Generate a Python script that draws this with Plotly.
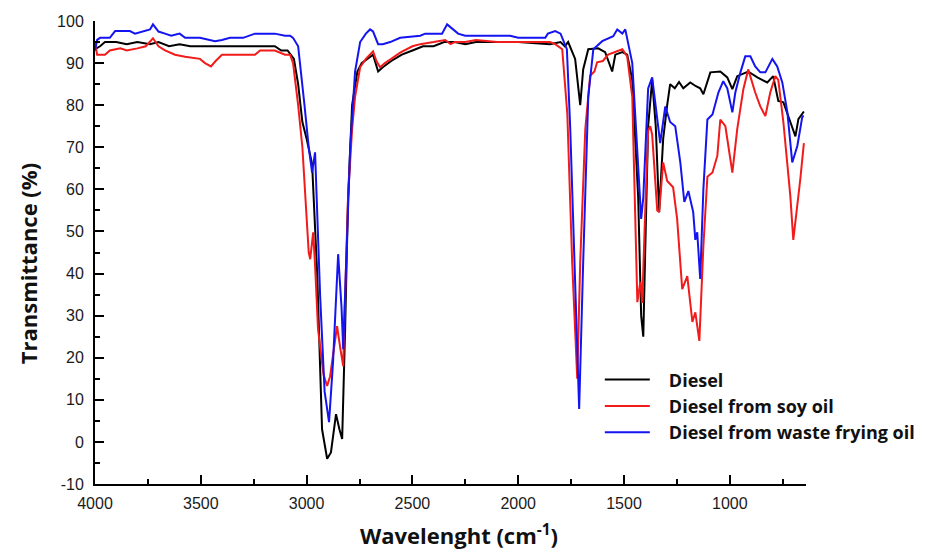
import plotly.graph_objects as go

# Diesel
diesel_x = [4000, 3976, 3953, 3900, 3850, 3800, 3740, 3700, 3650, 3600, 3550, 3500, 3300, 3150, 3120, 3090,
            3060, 3040, 3020, 3000, 2974, 2950, 2927, 2903, 2885, 2861, 2845, 2832, 2818, 2804, 2785, 2760,
            2740, 2700, 2686, 2662, 2640, 2600, 2550, 2500, 2450, 2400, 2350, 2300, 2250, 2200, 2000, 1850,
            1800, 1780, 1764, 1731, 1721, 1707, 1693, 1669, 1622, 1589, 1556, 1541, 1508, 1485, 1461, 1433,
            1419, 1409, 1400, 1386, 1367, 1350, 1334, 1315, 1296, 1282, 1260, 1240, 1220, 1200, 1187, 1160,
            1140, 1125, 1092, 1045, 1012, 988, 965, 913, 870, 823, 795, 771, 747, 714, 690, 676, 650]
diesel_y = [93.3, 94, 95, 95, 94.5, 95, 94.5, 95, 94, 94.5, 94, 94, 94, 94, 93, 93,
            91, 85, 76, 72, 66, 40, 3, -4, -2.5, 6.6, 3, 0.7, 26.8, 58, 80, 88,
            90, 91.5, 92, 88, 89, 90.5, 92, 93, 94, 94, 95, 95, 94.5, 95, 95, 94.5,
            95, 94, 95, 91, 86, 80, 88.5, 93.3, 93.5, 92.6, 88, 92, 92.6, 92, 86, 58,
            30, 25, 45, 75, 86, 75, 54.6, 72, 80, 85, 84, 85.5, 84, 85, 85.4, 84.5,
            84, 82.6, 87.8, 88, 86.6, 83.8, 86.9, 88, 86.6, 85.4, 86.9, 81, 80.7, 76, 72.6, 76.7, 78.5]

# Diesel from soy oil
soy_x = [4000, 3990, 3953, 3930, 3880, 3850, 3800, 3760, 3726, 3700, 3669, 3622, 3574, 3504, 3480, 3452,
         3430, 3400, 3338, 3244, 3220, 3150, 3102, 3078, 3064, 3040, 3020, 3007, 2990, 2983, 2969, 2960,
         2946, 2920, 2903, 2889, 2870, 2856, 2840, 2827, 2818, 2804, 2785, 2771, 2747, 2720, 2686, 2670,
         2653, 2630, 2600, 2558, 2500, 2463, 2400, 2345, 2320, 2300, 2250, 2200, 2100, 2000, 1900, 1850,
         1825, 1792, 1768, 1745, 1721, 1707, 1683, 1660, 1640, 1627, 1600, 1575, 1508, 1485, 1461, 1450,
         1437, 1423, 1414, 1400, 1386, 1376, 1367, 1343, 1334, 1315, 1296, 1268, 1249, 1225, 1201, 1177,
         1163, 1144, 1125, 1106, 1082, 1059, 1045, 1021, 1007, 988, 965, 936, 913, 894, 880, 856,
         832, 809, 785, 771, 747, 714, 700, 667, 650]
soy_y = [95, 92, 92, 93, 93.5, 93, 93.5, 94, 95.9, 94, 93, 92, 91.5, 91, 90, 89.2,
         90.5, 92, 92, 92, 93, 93, 92, 92, 90, 80, 70, 60, 45, 43.4, 49.8, 42,
         26.8, 16, 13.3, 15.6, 22, 27.5, 22, 18, 34.6, 58.4, 74.3, 82, 89, 91, 92.8, 90.5,
         89, 90, 91, 92.5, 94, 94.5, 95, 95.5, 94.5, 95, 95, 95.5, 95, 95, 95, 95,
         94.5, 93.3, 78, 42.7, 15, 42.7, 74.3, 87, 88, 90.2, 90.5, 92, 93.3, 91.6, 82, 60,
         33.2, 38, 33, 54.6, 74, 75, 73, 55, 54.6, 66.4, 62, 60.5, 53, 36.3, 39.4, 28.5,
         30.8, 24, 46.5, 63, 64, 68, 76.6, 75, 70.3, 64, 74.3, 83.8, 88.5, 85.4, 83, 79.7,
         77.4, 83, 86.9, 86, 76, 58.4, 48, 62.4, 71]

# Diesel from waste frying oil
waste_x = [4000, 3990, 3976, 3930, 3905, 3835, 3811, 3780, 3740, 3726, 3700, 3669, 3640, 3600, 3574, 3504,
           3460, 3433, 3400, 3362, 3300, 3267, 3244, 3150, 3102, 3078, 3064, 3040, 3031, 3010, 2990, 2974,
           2960, 2950, 2936, 2915, 2894, 2875, 2851, 2835, 2827, 2813, 2794, 2771, 2747, 2720, 2700, 2686,
           2662, 2640, 2605, 2558, 2463, 2440, 2360, 2336, 2310, 2284, 2251, 2100, 2038, 2000, 1900, 1872,
           1860, 1825, 1800, 1792, 1770, 1754, 1731, 1712, 1693, 1669, 1645, 1603, 1551, 1532, 1508, 1494,
           1461, 1433, 1423, 1419, 1409, 1400, 1386, 1367, 1350, 1329, 1305, 1282, 1258, 1234, 1215, 1196,
           1173, 1163, 1154, 1140, 1125, 1106, 1082, 1054, 1031, 1012, 988, 974, 950, 927, 903, 880,
           856, 832, 799, 776, 752, 728, 705, 681, 657, 650]
waste_y = [93, 95.5, 96, 96, 97.6, 97.6, 97, 97.5, 98, 99.2, 97.5, 97, 96.5, 97, 96, 96,
           95.5, 95.2, 95.5, 96, 96, 96.5, 97, 97, 96.5, 96.5, 96, 94, 90, 80, 70, 64,
           68.8, 55, 34.6, 12, 4.7, 19, 44.6, 32, 22, 42.7, 70, 88, 95, 97, 98, 97.5,
           94.5, 94.5, 95, 96, 96.5, 97, 97, 99.2, 98, 97, 96.5, 96.5, 96.5, 96, 96, 96,
           97, 97.6, 97, 96, 93.3, 74.3, 34.6, 7.8, 42.7, 82, 93.3, 95.2, 96.4, 98, 97, 98,
           90, 66.4, 58.5, 53, 58, 70, 84, 86.6, 80, 71, 79.7, 76, 75, 66.4, 57, 59.6,
           54.6, 48, 49.8, 38.7, 60, 76.6, 77.8, 83, 85.7, 84, 78.3, 83, 87.8, 91.6, 91.6, 89.2,
           87.8, 87.8, 91, 89.2, 85.4, 78.3, 66.4, 70.3, 77.4, 77.4]

x_ticks = [4000, 3500, 3000, 2500, 2000, 1500, 1000]
x_minor = [3750, 3250, 2750, 2250, 1750, 1250, 750]
y_ticks = [-10, 0, 10, 20, 30, 40, 50, 60, 70, 80, 90, 100]
y_ticklabels = ["-10", "0", "10", "20", "30", "40", "50", "60", "70", "80", "90", "100"]

series = [
    ("Diesel", diesel_x, diesel_y, "#000000"),
    ("Diesel from soy oil", soy_x, soy_y, "#f21b1b"),
    ("Diesel from waste frying oil", waste_x, waste_y, "#1414f0"),
]

fig = go.Figure()
for name, xs, ys, col in series:
    fig.add_trace(go.Scatter(x=xs, y=ys, mode="lines", name="\u00a0\u00a0\u00a0" + name,
                             line=dict(color=col, width=2)))

tickfont = dict(family="Liberation Sans, Arial, sans-serif", size=16, color="#1a1a1a")
titlefont = dict(family="Open Sans, sans-serif", size=22, color="#111")
fig.update_layout(
    width=926, height=542,
    margin=dict(l=87, r=128, t=13, b=66, autoexpand=False),
    plot_bgcolor="white", paper_bgcolor="white",
    showlegend=True,
    legend=dict(x=0.71, y=0.265, xanchor="left", yanchor="top",
                font=dict(family="Open Sans, sans-serif", size=18, color="#111", weight="bold"),
                itemwidth=45, tracegroupgap=0, bgcolor="rgba(0,0,0,0)"),
    xaxis=dict(range=[4000, 640], showline=True, linecolor="black", linewidth=2,
               ticks="inside", ticklen=9, tickwidth=2, tickcolor="black",
               tickvals=x_ticks, ticklabelstandoff=4,
               minor=dict(tickvals=x_minor, ticks="inside", ticklen=5, tickwidth=2, tickcolor="black"),
               showgrid=False, zeroline=False, tickfont=tickfont, automargin=False),
    yaxis=dict(range=[-10, 100], showline=True, linecolor="black", linewidth=2,
               ticks="inside", ticklen=9, tickwidth=2, tickcolor="black",
               tickvals=y_ticks, ticktext=y_ticklabels, ticklabelstandoff=6,
               minor=dict(dtick=5, tick0=0, ticks="inside", ticklen=5, tickwidth=2, tickcolor="black"),
               showgrid=False, zeroline=False, tickfont=tickfont, automargin=False),
    annotations=[
        dict(text="<b>Wavelenght (cm<sup>-1</sup>)</b>", xref="paper", yref="paper",
             x=0.512, y=-0.108, xanchor="center", yanchor="middle", showarrow=False, font=titlefont),
        dict(text="<b>Transmittance (%)</b>", xref="paper", yref="paper",
             x=-0.094, y=0.475, xanchor="center", yanchor="middle", textangle=-90,
             showarrow=False, font=titlefont),
    ],
)

fig.write_html("out.html")
